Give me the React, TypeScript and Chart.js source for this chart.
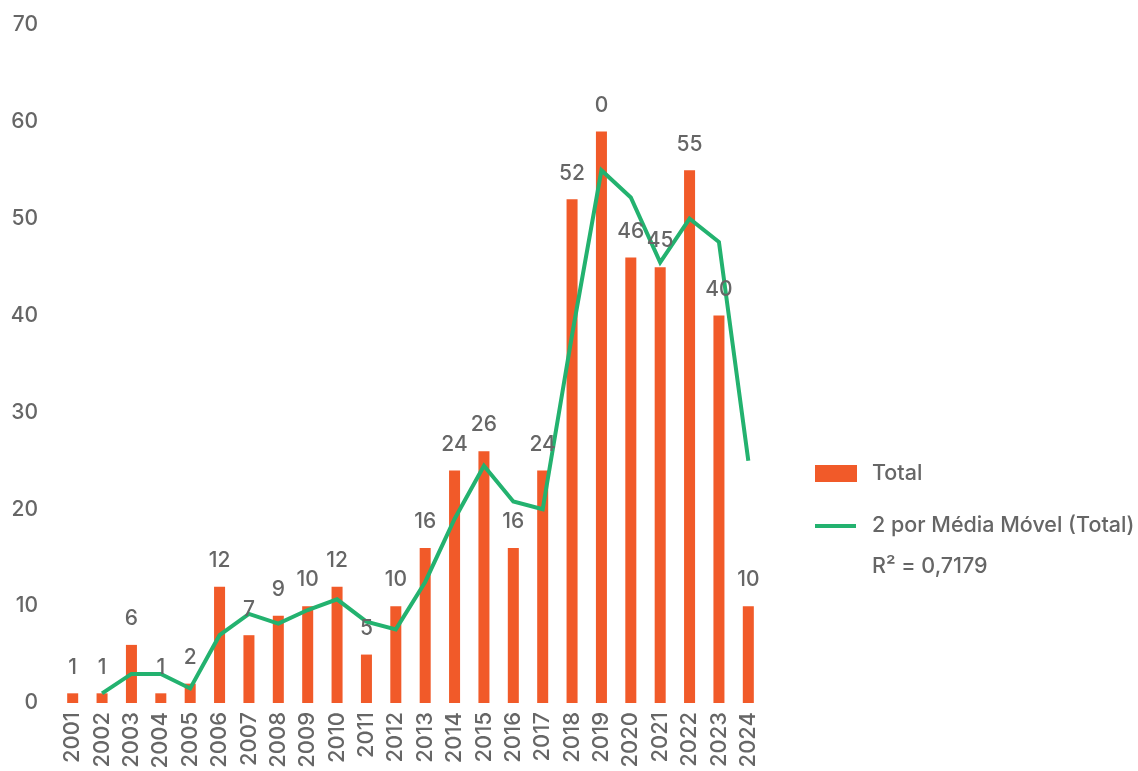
import React, { useEffect, useRef } from "react";
import { Chart, registerables } from "chart.js";

Chart.register(...registerables);

const years = ["2001","2002","2003","2004","2005","2006","2007","2008","2009","2010","2011","2012","2013","2014","2015","2016","2017","2018","2019","2020","2021","2022","2023","2024"];
const totals = [1,1,6,1,2,12,7,9,10,12,5,10,16,24,26,16,24,52,59,46,45,55,40,10];
const totalLabels = ["1","1","6","1","2","12","7","9","10","12","5","10","16","24","26","16","24","52","0","46","45","55","40","10"];
const movingAvg = [null,1,3,3,1.5,7,9.2,8.2,9.6,10.7,8.4,7.6,12.5,19,24.5,20.8,20,38,55,52.2,45.5,50,47.6,25];
const yTicks = [0,10,20,30,40,50,60,70];

const ORANGE = "#F15A29";
const GREEN = "#23B26F";
const GREY = "#666666";
const FONT = "Inter, 'Noto Sans', sans-serif";

export default function App() {
  const ref = useRef<HTMLCanvasElement | null>(null);
  useEffect(() => {
    if (!ref.current) return;
    const labelPlugin = {
      id: "barLabels",
      afterDatasetsDraw(chart: any) {
        const ctx = chart.ctx;
        const meta = chart.getDatasetMeta(1);
        ctx.save();
        ctx.fillStyle = GREY;
        ctx.font = `500 21px ${FONT}`;
        ctx.textAlign = "center";
        ctx.textBaseline = "middle";
        meta.data.forEach((el: any, i: number) => {
          ctx.fillText(totalLabels[i], el.x, el.y - 26);
        });
        ctx.restore();
      },
    };
    const legendPlugin = {
      id: "customLegend",
      afterDraw(chart: any) {
        const ctx = chart.ctx;
        ctx.save();
        ctx.fillStyle = ORANGE;
        ctx.fillRect(815, 465, 42, 17);
        ctx.strokeStyle = GREEN;
        ctx.lineWidth = 4;
        ctx.beginPath();
        ctx.moveTo(815, 526);
        ctx.lineTo(856, 526);
        ctx.stroke();
        ctx.fillStyle = GREY;
        ctx.font = `500 21.5px ${FONT}`;
        ctx.textAlign = "left";
        ctx.textBaseline = "middle";
        ctx.fillText("Total", 872, 474);
        ctx.fillText("2 por Média Móvel (Total)", 872, 526);
        ctx.fillText("R² = 0,7179", 872, 567);
        ctx.restore();
      },
    };
    const chart = new Chart(ref.current, {
      type: "bar",
      data: {
        labels: years,
        datasets: [
          {
            type: "line",
            label: "2 por Média Móvel (Total)",
            data: movingAvg as any,
            borderColor: GREEN,
            borderWidth: 4,
            pointRadius: 0,
            tension: 0,
            fill: false,
            order: 0,
          } as any,
          {
            type: "bar",
            label: "Total",
            data: totals,
            backgroundColor: ORANGE,
            barPercentage: 0.75,
            categoryPercentage: 0.5,
            order: 1,
          },
        ],
      },
      options: {
        responsive: false,
        animation: false,
        layout: { padding: { top: 25, right: 1138 - 763, left: 0, bottom: 0 } },
        plugins: { legend: { display: false }, tooltip: { enabled: false } },
        scales: {
          x: {
            grid: { display: false, drawTicks: false },
            border: { display: false },
            ticks: {
              color: GREY,
              font: { family: FONT, size: 22, weight: 500 as any },
              minRotation: 90,
              maxRotation: 90,
              padding: 9,
              autoSkip: false,
            },
            afterFit(scale: any) { scale.height = 68; scale.paddingLeft = 0; scale.paddingRight = 0; },
          },
          y: {
            min: 0,
            max: 70,
            grid: { display: false, drawTicks: false },
            border: { display: false },
            afterBuildTicks(scale: any) { scale.ticks = yTicks.map((v) => ({ value: v })); },
            ticks: {
              color: GREY,
              font: { family: FONT, size: 21, weight: 500 as any },
              padding: 20,
            },
            afterFit(scale: any) { scale.width = 58; scale.paddingTop = 0; scale.paddingBottom = 0; },
          },
        },
      },
      plugins: [labelPlugin, legendPlugin],
    });
    return () => chart.destroy();
  }, []);
  return (
    <div style={{ position: "fixed", left: 0, top: 0, width: 1138, height: 771, background: "#fff" }}>
      <canvas ref={ref} width={1138} height={771} style={{ display: "block" }} />
    </div>
  );
}
